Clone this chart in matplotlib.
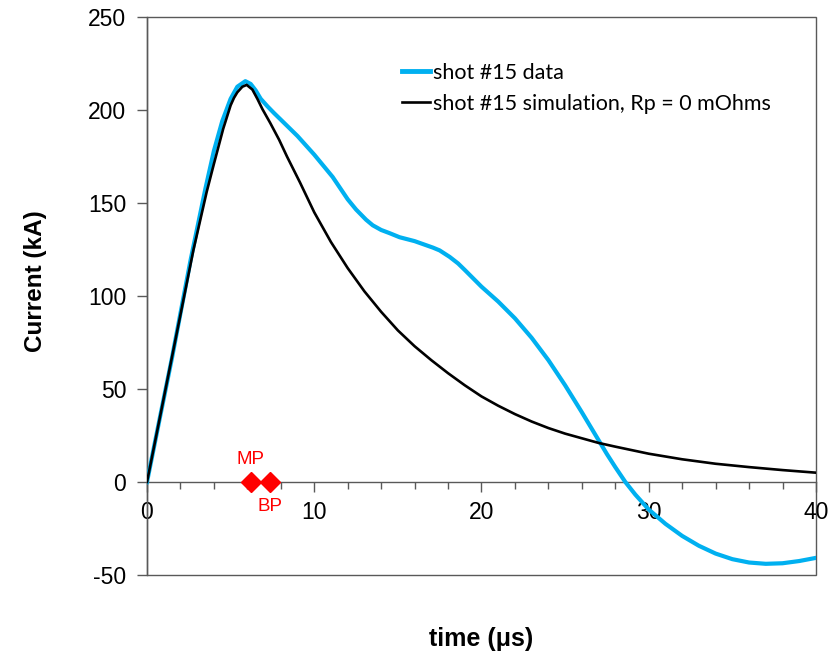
import matplotlib
matplotlib.use("Agg")
import matplotlib.pyplot as plt
from matplotlib.patches import Rectangle

plt.rcParams["axes.unicode_minus"] = False

# shot #15 measured current (time in us, current in kA)
t_data = [0, 0.78, 1.5, 2.6, 3.5, 4.0, 4.5, 5.0, 5.4, 5.88, 6.2, 6.5, 6.8, 7.2,
          7.6, 8.0, 9.0, 10.0, 11.1, 12.0, 12.5, 13.1, 13.5, 14.0, 14.5, 15.1,
          16.0, 17.1, 17.5, 18.1, 18.6, 19.0, 19.5, 20.0, 21.0, 22.0, 23.0, 24.0,
          25.0, 26.0, 27.0, 27.5, 28.0, 28.6, 29.2, 30.0, 31.0, 32.0, 33.0,
          34.0, 35.0, 36.0, 37.0, 38.0, 39.0, 40.0]
i_data = [0, 35, 67, 119, 158, 178, 194, 206, 212.5, 215.5, 214, 210.5, 206, 202,
          198.3, 194.8, 186, 176, 164, 152, 146.5, 141, 138, 135.5, 133.8, 131.6,
          129.5, 126, 124.5, 121, 117.5, 114, 109.5, 105, 97, 88, 77.5, 65.5,
          52, 37.5, 22.5, 15, 8, 0, -6.8, -14.8, -22.5, -29, -34.3,
          -38.5, -41.5, -43.3, -44, -43.7, -42.5, -40.8]

# shot #15 simulation, Rp = 0 mOhms
t_sim = [0, 1.57, 2.77, 3.57, 4.0, 4.56, 5.0, 5.2, 5.4, 5.7, 5.96, 6.3, 6.6, 6.9, 7.37,
         7.9, 8.37, 9.15, 10, 11, 12, 13, 14, 15, 16, 17, 18, 19, 20, 21, 22,
         23, 24, 25, 26, 27, 28, 30, 32, 34, 36, 38, 40]
i_sim = [0, 70.6, 124.5, 156, 171, 190, 202.5, 206.5, 209.5, 212.5, 213.5, 211, 206, 200.5, 193,
         184, 175, 161, 145, 129, 115, 102.5, 91.5, 81.5, 73, 65.5, 58.5, 52, 46, 41, 36.5,
         32.5, 29, 26, 23.5, 21, 19, 15.2, 12.2, 9.8, 8, 6.4, 5]

# MP / BP markers on the time axis
mark_t = [6.2, 7.35]
mark_i = [0, 0]
mark_lbl = ["MP", "BP"]

fig = plt.figure(figsize=(8.3, 6.59), dpi=100)
ax = fig.add_axes([0.1771, 0.1275, 0.806, 0.8467])

ax.plot(t_data, i_data, color="#00B0F0", lw=3.0, label="shot #15 data", zorder=3,
        solid_joinstyle="round")
ax.plot(t_sim, i_sim, color="black", lw=1.9, label="shot #15 simulation, Rp = 0 mOhms", zorder=4,
        solid_joinstyle="round")
ax.plot(mark_t, mark_i, linestyle="none", marker="D", ms=10, color="red", zorder=5, clip_on=False)
ax.annotate(mark_lbl[0], (mark_t[0], mark_i[0]), xytext=(0, 16), textcoords="offset points",
            ha="center", va="center", color="red", fontsize=13.5, family="Liberation Sans")
ax.annotate(mark_lbl[1], (mark_t[1], mark_i[1]), xytext=(0, -18), textcoords="offset points",
            ha="center", va="center", color="red", fontsize=13.5, family="Liberation Sans")

ax.set_xlim(0, 40)
ax.set_ylim(-50, 250)
ax.set_xticks([0, 10, 20, 30, 40])
ax.set_xticks(range(0, 41, 2), minor=True)
ax.set_yticks(range(-50, 251, 50))

spc = "#595959"
for s in ax.spines.values():
    s.set_color(spc)
    s.set_linewidth(1)
ax.spines["bottom"].set_position(("data", 0))
ax.spines["top"].set_visible(False)
ax.spines["right"].set_visible(False)
# frame box around the plot area
ax.add_patch(Rectangle((0, 0), 1, 1, transform=ax.transAxes, fill=False,
                       edgecolor=spc, lw=1, clip_on=False, zorder=1))

ax.tick_params(axis="x", which="major", direction="out", length=7, width=1, color=spc, pad=7,
               labelsize=16.5)
ax.tick_params(axis="x", which="minor", direction="out", length=5, width=1, color=spc)
ax.tick_params(axis="y", direction="out", length=7, width=1, color=spc, pad=8, labelsize=16.5)
for lab in ax.get_xticklabels() + ax.get_yticklabels():
    lab.set_family("Liberation Sans")

ax.set_ylabel("Current (kA)", fontsize=17.5, fontweight="bold", family="Liberation Sans")
ax.set_xlabel("time (\u03bcs)", fontsize=18, fontweight="bold", family="Liberation Sans")
ax.xaxis.set_label_coords(0.5, -0.093)
ax.yaxis.set_label_coords(-0.15, 0.526)

leg = ax.legend(loc="upper left", bbox_to_anchor=(0.381, 0.918), frameon=False,
                prop={"family": "Lato", "size": 15.5}, handlelength=1.3, handletextpad=0.15,
                borderpad=0, borderaxespad=0, labelspacing=0.5)
leg.get_lines()[0].set_linewidth(3.5)

fig.savefig("out.png", dpi=100)
